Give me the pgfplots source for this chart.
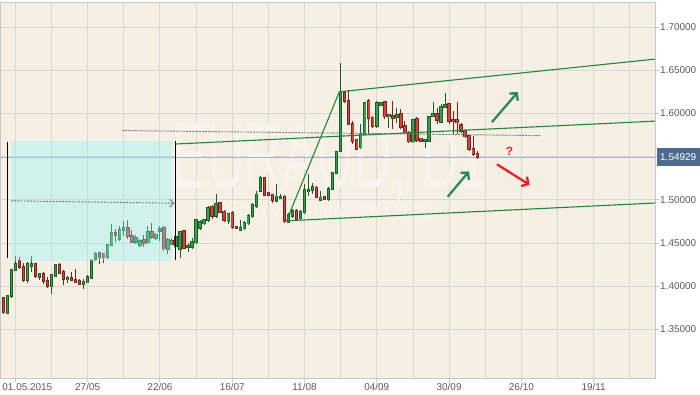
\documentclass[border=0pt]{standalone}
\usepackage{fontspec}
\setmainfont{Liberation Sans}
\usepackage{pgfplots}
\pgfplotsset{compat=1.18}
\usepackage{pgfplotstable}
\usetikzlibrary{arrows.meta}
\definecolor{bgc}{RGB}{245,239,228}
\definecolor{gridc}{RGB}{218,216,212}
\definecolor{axc}{RGB}{200,200,200}
\definecolor{labc}{RGB}{90,90,90}
\definecolor{gfill}{RGB}{54,158,76}
\definecolor{gdark}{RGB}{28,92,40}
\definecolor{rfill}{RGB}{200,72,60}
\definecolor{rdark}{RGB}{122,34,28}
\definecolor{boxc}{RGB}{139,250,251}
\definecolor{chan}{RGB}{34,134,58}
\definecolor{arrg}{RGB}{46,135,90}
\definecolor{arrr}{RGB}{238,32,32}
\definecolor{pricec}{RGB}{168,178,192}
\definecolor{pbox}{RGB}{78,107,143}
\definecolor{wmc}{RGB}{248,244,237}
\definecolor{dashc}{RGB}{120,120,120}

\pgfplotstableread{
i o h l c
1 1.3694 1.390 1.3685 1.389
2 1.389 1.4206 1.3867 1.4191
3 1.419 1.4353 1.418 1.426
6 1.4071 1.4287 1.4044 1.4256
7 1.4238 1.4353 1.4168 1.4256
9 1.411 1.416 1.4075 1.414
12 1.3997 1.4148 1.3907 1.4129
13 1.4121 1.4264 1.411 1.4245
16 1.4082 1.4117 1.4033 1.4098
20 1.4025 1.408 1.3965 1.4056
21 1.4044 1.4129 1.4036 1.4113
22 1.4094 1.4314 1.408 1.4295
23 1.431 1.4395 1.4295 1.4376
26 1.434 1.449 1.432 1.448
27 1.448 1.4719 1.447 1.4619
29 1.4545 1.470 1.453 1.4654
30 1.4654 1.4758 1.4585 1.4673
33 1.4515 1.459 1.4488 1.4561
34 1.448 1.4545 1.446 1.4527
36 1.4507 1.470 1.4488 1.4627
38 1.4561 1.4623 1.4538 1.460
39 1.4642 1.470 1.4527 1.4665
41 1.443 1.4554 1.4375 1.4538
43 1.447 1.4585 1.445 1.4573
44 1.443 1.4642 1.4333 1.463
46 1.4457 1.4507 1.440 1.4469
47 1.4457 1.4554 1.443 1.4515
48 1.4507 1.4785 1.4488 1.477
49 1.4673 1.477 1.4654 1.475
50 1.4727 1.4785 1.4715 1.477
51 1.477 1.4932 1.4747 1.4912
53 1.4816 1.5074 1.4796 1.4958
56 1.475 1.4854 1.4719 1.4835
59 1.4654 1.477 1.4646 1.468
60 1.4669 1.4758 1.4654 1.4738
61 1.4727 1.4835 1.471 1.4816
62 1.4808 1.4962 1.4792 1.4939
63 1.4932 1.5105 1.4912 1.5063
64 1.5105 1.5279 1.5086 1.5251
68 1.4989 1.5182 1.4978 1.504
69 1.5025 1.5067 1.5016 1.5036
71 1.4748 1.485 1.4735 1.4829
72 1.4817 1.4893 1.4796 1.4874
74 1.4785 1.488 1.477 1.4866
75 1.4854 1.5182 1.4835 1.5112
76 1.5105 1.5297 1.5048 1.5112
77 1.5112 1.5201 1.5067 1.5152
79 1.5001 1.5105 1.4997 1.5028
81 1.5013 1.5144 1.4993 1.5129
82 1.5124 1.5325 1.511 1.5314
83 1.5314 1.557 1.530 1.556
84 1.5568 1.659 1.5557 1.6251
89 1.5606 1.5876 1.5587 1.576
90 1.576 1.6139 1.5749 1.6127
93 1.585 1.6147 1.5838 1.6127
94 1.6101 1.6139 1.6085 1.6127
96 1.5965 1.5992 1.5838 1.598
98 1.5954 1.6069 1.5896 1.598
102 1.5676 1.5934 1.5664 1.5922
105 1.5684 1.571 1.5606 1.5696
106 1.5684 1.5973 1.5672 1.5962
107 1.5973 1.6139 1.596 1.5992
109 1.5904 1.6108 1.589 1.6081
110 1.6078 1.6243 1.6069 1.610
}\greens

\pgfplotstableread{
i o h l c
0 1.387 1.388 1.368 1.3697
4 1.429 1.4345 1.420 1.4221
5 1.4226 1.4275 1.4049 1.4071
8 1.4264 1.4275 1.4098 1.4121
10 1.4148 1.416 1.403 1.4064
11 1.4064 1.4106 1.3977 1.400
14 1.425 1.4268 1.414 1.4152
15 1.4168 1.4187 1.401 1.4082
17 1.4102 1.4168 1.406 1.4071
18 1.4079 1.4206 1.4036 1.4044
19 1.4064 1.408 1.4013 1.4025
24 1.4391 1.440 1.4256 1.4333
25 1.438 1.4391 1.4275 1.4333
28 1.4619 1.466 1.4515 1.4596
31 1.4673 1.477 1.4545 1.4585
32 1.4585 1.4654 1.4507 1.4515
35 1.4538 1.459 1.446 1.4504
37 1.4631 1.4738 1.4545 1.4573
40 1.4677 1.470 1.4414 1.4437
42 1.453 1.4554 1.4475 1.449
45 1.4638 1.465 1.4437 1.4446
52 1.4924 1.4943 1.478 1.4816
54 1.497 1.4978 1.4854 1.4862
55 1.4866 1.4878 1.4747 1.477
57 1.4854 1.4874 1.466 1.4689
58 1.4692 1.470 1.4665 1.4673
65 1.5259 1.5271 1.504 1.5059
66 1.5086 1.5094 1.5044 1.5055
67 1.5059 1.5067 1.497 1.4997
70 1.504 1.5059 1.4738 1.475
73 1.4874 1.489 1.4765 1.4777
78 1.5144 1.5163 1.5025 1.5036
80 1.5036 1.5048 1.4997 1.5008
85 1.6243 1.626 1.612 1.6147
86 1.6147 1.6274 1.5865 1.5876
87 1.5884 1.5919 1.5645 1.5684
88 1.5696 1.5707 1.5575 1.5587
91 1.6147 1.6166 1.576 1.5946
92 1.5954 1.597 1.5838 1.585
95 1.6135 1.6139 1.5942 1.5965
97 1.5973 1.614 1.582 1.5946
99 1.5992 1.6058 1.5826 1.5846
100 1.5858 1.5915 1.576 1.578
101 1.578 1.5795 1.566 1.5676
103 1.5942 1.5954 1.5672 1.5691
104 1.5711 1.572 1.567 1.5684
108 1.5992 1.6069 1.5876 1.5922
111 1.6108 1.611 1.5876 1.5916
112 1.5927 1.6031 1.576 1.5907
113 1.5927 1.6135 1.576 1.5896
114 1.5865 1.5896 1.578 1.580
115 1.580 1.5818 1.572 1.5734
116 1.5742 1.5745 1.557 1.5587
117 1.5587 1.5742 1.5514 1.553
118 1.5537 1.5572 1.5468 1.5493
}\reds

\pgfplotsset{
  wick/.style={draw=none, mark=none, forget plot,
    error bars/.cd, y dir=both, y explicit, error mark=none,
    error bar style={draw=#1, line width=1bp}},
  bodyout/.style={draw=none, mark=none, forget plot,
    error bars/.cd, y dir=both, y explicit, error mark=none,
    error bar style={draw=#1, line width=3.4bp, shorten <=-0.8bp, shorten >=-0.8bp}},
  bodyin/.style={draw=none, mark=none, forget plot,
    error bars/.cd, y dir=both, y explicit, error mark=none,
    error bar style={draw=#1, line width=1.6bp}},
}

\begin{document}
\begin{tikzpicture}[x=1bp,y=1bp]
\fill[white] (0,0) rectangle (700,394);
\begin{axis}[
  at={(0,18.5)}, anchor=south west,
  width=655bp, height=375.5bp, scale only axis,
  xmin=-0.822, xmax=162.27, ymin=1.29387, ymax=1.72847,
  axis background/.style={fill=bgc},
  axis line style={draw=axc, line width=0.9bp},
  xtick={3,21,39,57,75,93,111,129,147},
  xticklabels={\hspace*{24bp}01.05.2015,27/05,22/06,16/07,11/08,04/09,30/09,26/10,19/11},
  minor xtick={12,30,48,66,84,102,120,138,156},
  ytick={1.35,1.40,1.45,1.50,1.55,1.60,1.65,1.70},
  yticklabels={1.35000,1.40000,1.45000,1.50000,1.55000,1.60000,1.65000,1.70000},
  xtick pos=bottom, ytick pos=right, yticklabel pos=right,
  tick align=outside, major tick length=4bp, minor tick length=0pt,
  tick style={draw=axc, line width=0.9bp},
  xmajorgrids, ymajorgrids, xminorgrids,
  major grid style={draw=gridc, line width=0.9bp},
  minor grid style={draw=gridc, line width=0.9bp},
  ticklabel style={font=\fontsize{10}{12}\selectfont, text=labc, inner sep=0pt},
  xticklabel style={anchor=north, yshift=-1bp},
  yticklabel style={anchor=west, xshift=1bp},
]
% watermark
\node[text=wmc, font=\fontsize{95}{95}\selectfont, xscale=0.55, inner sep=0pt, text depth=0pt, anchor=base] at (axis cs:81.35,1.5136) {EURAUD, D1};
\node[text=wmc, font=\fontsize{21}{21}\selectfont, xscale=0.9, inner sep=0pt] at (axis cs:81.35,1.4880) {Euro vs Australian Dollar};
% current price line
\addplot[pricec, line width=1.3bp, forget plot] coordinates {(-0.822,1.54929) (162.27,1.54929)};

% candles
\addplot[wick=gdark] table[x=i, y expr={(\thisrow{h}+\thisrow{l})/2}, y error expr={(\thisrow{h}-\thisrow{l})/2}] {\greens};
\addplot[wick=rdark] table[x=i, y expr={(\thisrow{h}+\thisrow{l})/2}, y error expr={(\thisrow{h}-\thisrow{l})/2}] {\reds};
\addplot[bodyout=gdark] table[x=i, y expr={(\thisrow{o}+\thisrow{c})/2}, y error expr={max(abs(\thisrow{c}-\thisrow{o})/2,0.0002)}] {\greens};
\addplot[bodyin=gfill] table[x=i, y expr={(\thisrow{o}+\thisrow{c})/2}, y error expr={max(abs(\thisrow{c}-\thisrow{o})/2,0.0002)}] {\greens};
\addplot[bodyout=rdark] table[x=i, y expr={(\thisrow{o}+\thisrow{c})/2}, y error expr={max(abs(\thisrow{c}-\thisrow{o})/2,0.0002)}] {\reds};
\addplot[bodyin=rfill] table[x=i, y expr={(\thisrow{o}+\thisrow{c})/2}, y error expr={max(abs(\thisrow{c}-\thisrow{o})/2,0.0002)}] {\reds};

% cyan box overlay
\addplot[draw=none, fill=boxc, fill opacity=0.35, forget plot] coordinates {(1.917,1.56875) (42.01,1.56875) (42.01,1.42986) (1.917,1.42986)} -- cycle;

% black vertical lines
\addplot[black, line width=1.2bp, forget plot] coordinates {(0.996,1.56725) (0.996,1.43253)};
\addplot[black, line width=1.2bp, forget plot] coordinates {(42.88,1.5684) (42.88,1.43021)};

% dashed lines
\addplot[dashc, line width=0.9bp, dash pattern=on 2bp off 1.2bp, forget plot, -{Straight Barb[length=4bp,width=8bp,line width=0.9bp]}] coordinates {(1.917,1.49896) (42.6,1.49618)};
\addplot[dashc, line width=0.9bp, dash pattern=on 2bp off 1.2bp, forget plot] coordinates {(29.56,1.58032) (133.64,1.57442)};

% channel lines
\addplot[chan, line width=1.1bp, forget plot] coordinates {(83.67,1.62512) (162.27,1.66296)};
\addplot[chan, line width=1.1bp, forget plot] coordinates {(42.93,1.5647) (162.27,1.5912)};
\addplot[chan, line width=1.1bp, forget plot] coordinates {(70.52,1.47581) (162.27,1.49641)};
\addplot[chan, line width=1.1bp, forget plot] coordinates {(70.52,1.47581) (83.67,1.62512)};

% arrows
\addplot[arrg, line width=2.3bp, forget plot, -{Straight Barb[length=5bp,width=11bp]}] coordinates {(121.66,1.59005) (128.11,1.62477)};
\addplot[arrg, line width=2.3bp, forget plot, -{Straight Barb[length=5bp,width=11bp]}] coordinates {(110.66,1.5037) (115.94,1.53299)};
\addplot[arrr, line width=2.3bp, forget plot, -{Straight Barb[length=5bp,width=11bp]}] coordinates {(122.91,1.5412) (131.05,1.51748)};
\node[text=arrr, font=\bfseries\fontsize{12}{12}\selectfont] at (axis cs:126.02,1.5557) {?};

\coordinate (pl) at (axis cs:162.27,1.54929);
\end{axis}
\node[fill=pbox, text=white, anchor=west, minimum height=18bp, minimum width=43bp, inner sep=0pt, font=\fontsize{10}{12}\selectfont] at ([xshift=1.5bp]pl) {1.54929};
\pgfresetboundingbox
\path[use as bounding box] (0,0) rectangle (700,394);
\end{tikzpicture}
\end{document}
